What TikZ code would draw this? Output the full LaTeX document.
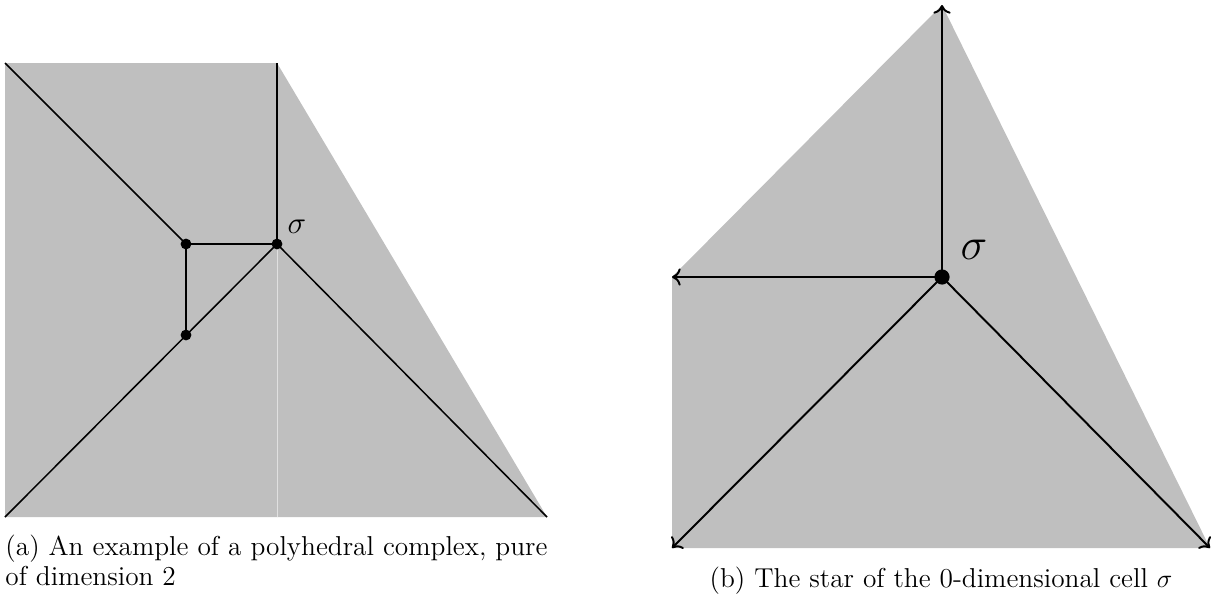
\documentclass[tikz,border=0pt]{standalone}
\usetikzlibrary{arrows.meta}
\begin{document}
\begin{tikzpicture}[x=0.4608pt,y=-0.4608pt,
  region/.style={fill=lightgray,draw=none},
  edge/.style={line width=0.7pt},
  ray/.style={line width=0.9pt,-{To[length=4pt,width=8pt]}},
  vtx/.style={circle,fill=black,inner sep=0pt,minimum size=5pt},
  bigvtx/.style={circle,fill=black,inner sep=0pt,minimum size=7pt},
  captext/.style={font=\fontsize{12.6}{13.8}\selectfont,inner sep=0pt}]
\useasboundingbox (0,0) rectangle (1213,597);
% left figure
\coordinate (A) at (5,63);
\coordinate (B) at (277,63);
\coordinate (C) at (547,517);
\coordinate (D) at (5,517);
\coordinate (M) at (277,517);
\node[vtx] (P) at (186,244) {};
\node[vtx] (Q) at (186,335) {};
\node[vtx] (S) at (277,244) {};
\fill[region] (A) -- (B) -- (S.center) -- (M) -- (D) -- cycle;
\fill[region] (B) -- (C) -- (M) -- (S.center) -- cycle;
\draw[black!12,line width=0.3pt] (S.center) -- (M);
\draw[edge] (A) -- (P.center) -- (S.center) -- (B);
\draw[edge] (P.center) -- (Q.center);
\draw[edge] (D) -- (S.center) -- (C);
\node[vtx] at (P) {};
\node[vtx] at (Q) {};
\node[vtx] at (S) {};
\node[font=\fontsize{14.4}{17}\selectfont] (sl) at (297,227) {$\sigma$};
\node[captext,anchor=north west,align=left] (capa) at (5,535)
  {\makebox[249.8pt][s]{(a) An example of a polyhedral complex, pure}\\of dimension 2};
% right figure
\coordinate (T) at (942,5);
\coordinate (L) at (672,277);
\coordinate (BL) at (672,548);
\coordinate (BR) at (1210,548);
\node[bigvtx] (O) at (942,277) {};
\fill[region] (L) -- (T) -- (BR) -- (BL) -- cycle;
\draw[ray] (O.center) -- (T);
\draw[ray] (O.center) -- (L);
\draw[ray] (O.center) -- (BL);
\draw[ray] (O.center) -- (BR);
\node[bigvtx] at (O) {};
\node[font=\fontsize{20.74}{25}\selectfont] (sr) at (974,250) {$\sigma$};
\node[captext,anchor=base] (capb) at (941,587) {(b) The star of the 0-dimensional cell $\sigma$};
\end{tikzpicture}
\end{document}
